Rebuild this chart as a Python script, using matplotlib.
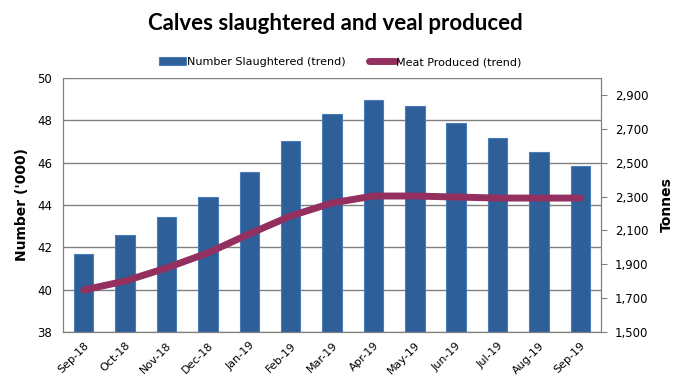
import matplotlib
matplotlib.use("Agg")
import matplotlib.pyplot as plt
from matplotlib.ticker import FuncFormatter

months = ["Sep-18", "Oct-18", "Nov-18", "Dec-18", "Jan-19", "Feb-19", "Mar-19",
          "Apr-19", "May-19", "Jun-19", "Jul-19", "Aug-19", "Sep-19"]
slaughtered = [41.67, 42.57, 43.42, 44.36, 45.57, 47.02, 48.28,
               48.94, 48.66, 47.86, 47.15, 46.49, 45.83]
meat = [1748, 1801, 1878, 1967, 2079, 2185, 2262,
        2303, 2303, 2297, 2291, 2291, 2291]

BAR = "#2E5F99"
BAR_EDGE = "#4A7EBB"
LINE = "#93305F"
GRID = "#808080"

fig = plt.figure(figsize=(6.74, 3.84), dpi=100)
ax = fig.add_axes([0.0935, 0.1354, 0.7982, 0.6615])
ax2 = ax.twinx()

x = list(range(len(months)))
bars = ax.bar(x, slaughtered, width=0.47, color=BAR, edgecolor=BAR_EDGE, linewidth=0.8,
              zorder=2)
line, = ax2.plot(x, meat, color=LINE, linewidth=5, solid_capstyle="round", zorder=3)

ax.set_xlim(-0.5, len(months) - 0.5)
ax.set_ylim(38, 50)
ax.set_yticks(range(38, 51, 2))
ax.grid(axis="y", color=GRID, linewidth=1, zorder=0)
ax.set_axisbelow(True)

ax2.set_ylim(1500, 3000)
ax2.set_yticks(range(1500, 3000, 200))
ax2.yaxis.set_major_formatter(FuncFormatter(lambda v, p: f"{int(v):,}"))

ax.set_xticks(x)
ax.set_xticklabels(months, rotation=45, ha="right", rotation_mode="anchor", fontsize=8)
ax.tick_params(axis="x", length=0, pad=6)
ax.tick_params(axis="y", labelsize=8.5, length=0, pad=8)
ax2.tick_params(axis="y", labelsize=8.5, length=4, color=GRID, pad=6)

for a in (ax, ax2):
    for s in a.spines.values():
        s.set_color(GRID)
ax.spines["top"].set_visible(False)
ax2.spines["top"].set_visible(False)

ax.set_ylabel("Number ('000)", fontsize=10, fontweight="bold", labelpad=6)
ax2.set_ylabel("Tonnes", fontsize=10, fontweight="bold", labelpad=8)

fig.suptitle("Calves slaughtered and veal produced", fontsize=16, fontweight="bold",
             family="Lato", x=0.497, y=0.965)

fig.legend([bars, line], ["Number Slaughtered (trend)", "Meat Produced (trend)"],
           loc="center", bbox_to_anchor=(0.505, 0.838), ncol=2, frameon=False,
           fontsize=8, handlelength=2.4, handletextpad=0.1, columnspacing=2.1)

fig.savefig("out.png", dpi=100)
